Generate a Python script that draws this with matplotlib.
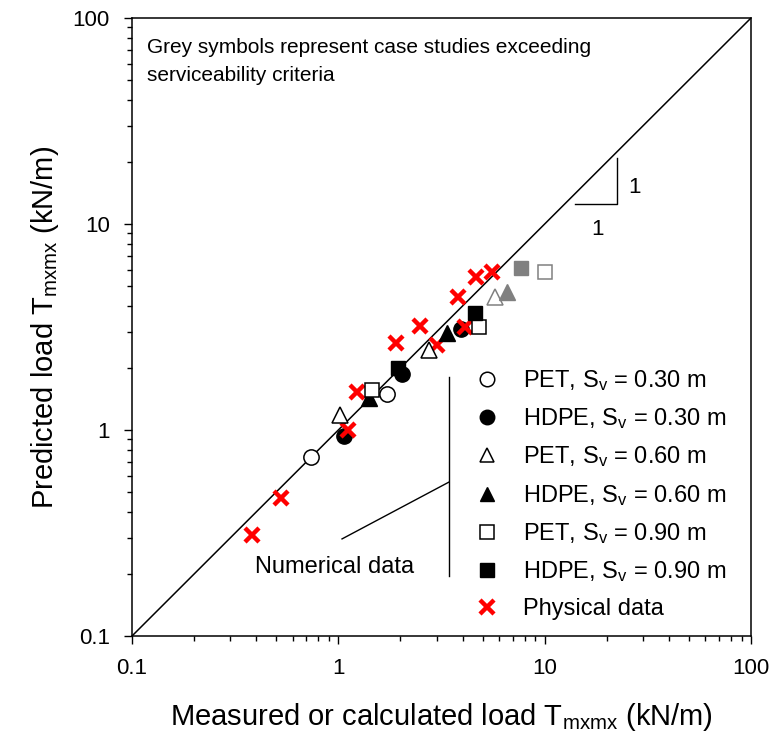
import matplotlib
matplotlib.use("Agg")
import matplotlib.pyplot as plt
from matplotlib.ticker import LogLocator, NullFormatter

plt.rcParams['font.family'] = ['Liberation Sans', 'DejaVu Sans']
plt.rcParams['mathtext.fontset'] = 'custom'
plt.rcParams['mathtext.rm'] = 'Liberation Sans'
plt.rcParams['mathtext.it'] = 'Liberation Sans'

# ---- data ----
pet30_x = [0.74, 1.72]
pet30_y = [0.74, 1.50]
hdpe30_x = [1.07, 2.04, 3.93]
hdpe30_y = [0.93, 1.87, 3.08]
pet60_x = [1.02, 2.76]
pet60_y = [1.18, 2.45]
pet60_grey_x = [5.75]
pet60_grey_y = [4.40]
hdpe60_x = [1.41, 3.35]
hdpe60_y = [1.43, 2.95]
hdpe60_grey_x = [6.55]
hdpe60_grey_y = [4.70]
pet90_x = [1.46, 4.80]
pet90_y = [1.56, 3.15]
pet90_grey_x = [10.0]
pet90_grey_y = [5.87]
hdpe90_x = [1.95, 4.60]
hdpe90_y = [2.00, 3.70]
hdpe90_grey_x = [7.68]
hdpe90_grey_y = [6.10]
phys_x = [0.38, 0.53, 1.12, 1.23, 1.90, 2.49, 3.00, 3.82, 4.10, 4.63, 5.58]
phys_y = [0.31, 0.47, 1.00, 1.53, 2.65, 3.20, 2.60, 4.44, 3.17, 5.55, 5.83]

tick_vals = [0.1, 1, 10, 100]
tick_labels = ['0.1', '1', '10', '100']
axis_lim = [0.1, 100]

labels = ['PET, $\\mathrm{S_v}$ = 0.30 m', 'HDPE, $\\mathrm{S_v}$ = 0.30 m',
          'PET, $\\mathrm{S_v}$ = 0.60 m', 'HDPE, $\\mathrm{S_v}$ = 0.60 m',
          'PET, $\\mathrm{S_v}$ = 0.90 m', 'HDPE, $\\mathrm{S_v}$ = 0.90 m',
          'Physical data']

GREY = '#808080'

fig = plt.figure(figsize=(7.72, 7.47), dpi=100)
ax = fig.add_axes([132/772, (747-636)/747, 619/772, 618/747])
ax.set_xscale('log')
ax.set_yscale('log')
ax.set_xlim(axis_lim)
ax.set_ylim(axis_lim)

# 1:1 line
ax.plot(axis_lim, axis_lim, color='black', lw=1.1, zorder=1)

ms_c = 11
ms_t = 11
ms_s = 10
h1, = ax.plot(pet30_x, pet30_y, 'o', ms=ms_c, mfc='white', mec='black', mew=1.1, ls='none', zorder=3)
h2, = ax.plot(hdpe30_x, hdpe30_y, 'o', ms=ms_c, mfc='black', mec='black', ls='none', zorder=3)
h7, = ax.plot(phys_x, phys_y, 'x', ms=10.5, mec='red', mew=3.2, ls='none', zorder=4)
h3, = ax.plot(pet60_x, pet60_y, '^', ms=ms_t, mfc='white', mec='black', mew=1.1, ls='none', zorder=5)
ax.plot(pet60_grey_x, pet60_grey_y, '^', ms=ms_t, mfc='white', mec=GREY, mew=1.1, ls='none', zorder=5)
h4, = ax.plot(hdpe60_x, hdpe60_y, '^', ms=ms_t, mfc='black', mec='black', ls='none', zorder=5)
ax.plot(hdpe60_grey_x, hdpe60_grey_y, '^', ms=ms_t, mfc=GREY, mec=GREY, ls='none', zorder=5)
h5, = ax.plot(pet90_x, pet90_y, 's', ms=ms_s, mfc='white', mec='black', mew=1.1, ls='none', zorder=6)
ax.plot(pet90_grey_x, pet90_grey_y, 's', ms=ms_s, mfc='white', mec=GREY, mew=1.1, ls='none', zorder=6)
h6, = ax.plot(hdpe90_x, hdpe90_y, 's', ms=ms_s, mfc='black', mec='black', ls='none', zorder=6)
ax.plot(hdpe90_grey_x, hdpe90_grey_y, 's', ms=ms_s, mfc=GREY, mec=GREY, ls='none', zorder=6)

leg = ax.legend([h1, h2, h3, h4, h5, h6, h7], labels, loc='upper left',
                bbox_to_anchor=(0.5545, 0.434), frameon=False, fontsize=17,
                handlelength=1.0, handletextpad=1.03, labelspacing=0.57,
                borderpad=0, borderaxespad=0, markerscale=0.95)

# ticks
ax.set_xticks(tick_vals)
ax.set_xticklabels(tick_labels)
ax.set_yticks(tick_vals)
ax.set_yticklabels(tick_labels)
ax.xaxis.set_minor_locator(LogLocator(base=10, subs=range(2, 10)))
ax.yaxis.set_minor_locator(LogLocator(base=10, subs=range(2, 10)))
ax.xaxis.set_minor_formatter(NullFormatter())
ax.yaxis.set_minor_formatter(NullFormatter())
ax.tick_params(which='major', direction='out', length=6, width=1, labelsize=16, pad=10)
ax.tick_params(which='minor', direction='out', length=3.5, width=1)
for s in ax.spines.values():
    s.set_linewidth(1.1)

narrow = ['Liberation Sans Narrow', 'Liberation Sans']
ax.set_xlabel('Measured or calculated load T$_{\\mathrm{mxmx}}$ (kN/m)', fontsize=21,
              family=narrow, labelpad=16)
ax.set_ylabel('Predicted load T$_{\\mathrm{mxmx}}$ (kN/m)', fontsize=21,
              family=narrow, labelpad=8)

# note
ax.text(0.024, 0.968, 'Grey symbols represent case studies exceeding\nserviceability criteria',
        transform=ax.transAxes, ha='left', va='top', fontsize=15, linespacing=1.6)

# slope triangle
ax.plot([14.0, 22.5, 22.5], [12.5, 12.5, 20.9], color='black', lw=1.0)
ax.text(27.1, 15.1, '1', fontsize=16, ha='center', va='center')
ax.text(18.1, 9.45, '1', fontsize=16, ha='center', va='center')

# numerical data bracket
ax.plot([3.44, 3.44], [1.81, 0.1956], color='black', lw=1.0)
ax.plot([3.44, 1.042], [0.559, 0.296], color='black', lw=1.0)
ax.text(0.955, 0.216, 'Numerical data', fontsize=17, ha='center', va='center')

fig.savefig('out.png', dpi=100)
